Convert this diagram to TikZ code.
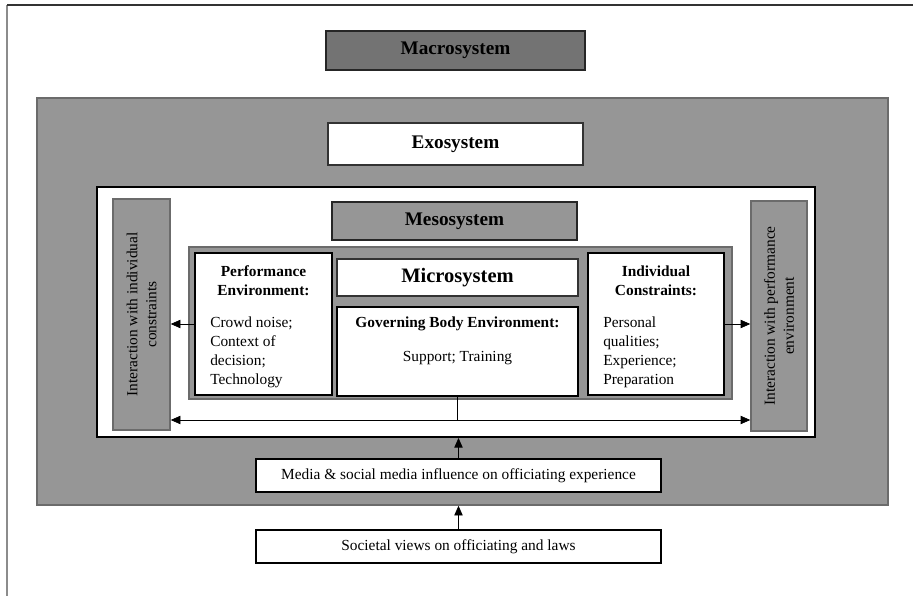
\documentclass[tikz,border=0pt]{standalone}
\usepackage{fontspec}
\setmainfont{Liberation Serif}
\usetikzlibrary{arrows.meta,fit}
\definecolor{midgray}{HTML}{969696}
\definecolor{darkgray}{HTML}{737373}
\definecolor{edgegray}{HTML}{6B6B6B}
\tikzset{
	layer/.style={draw=edgegray, fill=midgray, line width=1.2pt, inner sep=0pt},
	whitebox/.style={draw=black, fill=white, line width=1.5pt, inner sep=0pt},
	thinbox/.style={draw=black!80, fill=white, line width=.8pt, inner sep=0pt},
	systext/.style={font=\fontsize{15}{18}\selectfont\bfseries, inner sep=0pt},
	headtext/.style={font=\fontsize{12}{14.8}\selectfont\bfseries, align=center, inner sep=0pt},
	bodytext/.style={font=\fontsize{12}{14.8}\selectfont, align=left, inner sep=0pt},
	systip/.tip={Triangle[length=7.5pt,width=6.5pt]},
	arr/.style={-systip, line width=.6pt},
}
\begin{document}
\begin{tikzpicture}[x=.78pt, y=-.78pt]
	\useasboundingbox (0,0) rectangle (913,596);
	\draw[black!45, line width=1.2pt] (7,5) -- (7,596);
	\draw[black!80, line width=.9pt] (7,5) -- (913,5);
	% the nested systems
	\node[layer, draw=black!85, line width=.9pt, fill=darkgray, fit={(326,31) (585,70)}] (macro) {};
	\node[systext] (macrotext) at (macro) {Macrosystem};
	\node[layer, fit={(37,98) (888,505)}] (exo) {};
	\node[thinbox, fit={(328,123) (583,165)}] (exolabel) {};
	\node[systext] (exotext) at (exolabel) {Exosystem};
	\node[whitebox, fit={(97,187) (815,437)}] (meso) {};
	\node[layer, draw=black!85, line width=.9pt, fit={(332,202) (577,240)}] (mesolabel) {};
	\node[systext] (mesotext) at (mesolabel) {Mesosystem};
	\node[layer, fit={(113,199) (170,430)}] (lint) {};
	\node[layer, fit={(751,201) (807,431)}] (rint) {};
	\node[bodytext, align=center, rotate=90] (linttext) at (lint.center) {Interaction with individual\\constraints};
	\node[bodytext, align=center, rotate=90] (rinttext) at (rint.center) {Interaction with performance\\environment};
	\node[layer, fit={(189,247) (732,399)}] (micro) {};
	\node[thinbox, fit={(337,259) (578,296)}] (microlabel) {};
	\node[systext, font=\fontsize{16}{19}\selectfont\bfseries] (microtext) at (microlabel) {Microsystem};
	\node[whitebox, fit={(195,253) (332,395)}] (perf) {};
	\node[whitebox, fit={(337,307) (578,396)}] (gov) {};
	\node[whitebox, fit={(588,253) (724,395)}] (indiv) {};
	\node[headtext] (perfhead) at (263.5,281) {Performance\\Environment:};
	\node[bodytext, anchor=west] (perfbody) at (210,352) {Crowd noise;\\Context of\\decision;\\Technology};
	\node[headtext] (govhead) at (457.5,324) {Governing Body Environment:};
	\node[bodytext] (govbody) at (457.5,358) {Support; Training};
	\node[headtext] (indivhead) at (656,281) {Individual\\Constraints:};
	\node[bodytext, anchor=west] (indivbody) at (603,352) {Personal\\qualities;\\Experience;\\Preparation};
	\node[whitebox, fit={(256,459) (661,492)}] (media) {};
	\node[bodytext] (mediatext) at (media) {Media \& social media influence on officiating experience};
	\node[whitebox, fit={(256,530) (661,563)}] (society) {};
	\node[bodytext] (societytext) at (society) {Societal views on officiating and laws};
	% connectors
	\coordinate (junction) at (gov.south |- 0,420);
	\draw[arr] (perf.west) -- (perf.west -| lint.east);
	\draw[arr] (indiv.east) -- (indiv.east -| rint.west);
	\draw[systip-systip, line width=.6pt] (junction -| lint.east) -- (junction -| rint.west);
	\draw[line width=.6pt] (gov.south) -- (junction);
	\draw[arr] (media.north) -- (media.north |- meso.south);
	\draw[arr] (society.north) -- (society.north |- exo.south);
\end{tikzpicture}
\end{document}
